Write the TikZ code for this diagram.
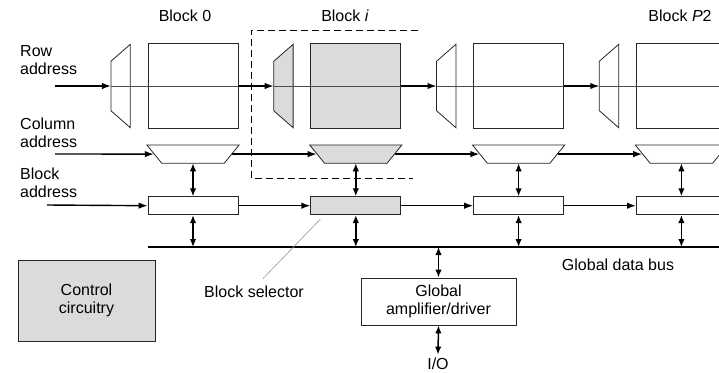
\documentclass[tikz,border=0pt]{standalone}
\usepackage{fontspec}
\setmainfont{Liberation Sans}
\usepackage{tikz}
\usetikzlibrary{arrows.meta, positioning, calc}
\tikzset{
  array/.style={draw=black!85, line width=0.8pt, minimum width=90pt, minimum height=85pt, inner sep=0pt},
  rowdec/.style={minimum width=19pt, minimum height=83pt, inner sep=0pt},
  coldec/.style={minimum width=92pt, minimum height=18pt, inner sep=0pt},
  decline/.style={draw=black!85, line width=0.8pt},
  selbox/.style={draw=black!85, line width=0.8pt, minimum width=90pt, minimum height=18pt, inner sep=0pt},
  unit/.style={draw=black!85, line width=0.8pt, align=center, inner sep=0pt},
  chosen/.style={fill=black!14},
  arrow/.style={-{Latex[length=9pt,width=6.5pt]}, line width=1.4pt},
  dblarrow/.style={{Latex[length=8pt,width=6.5pt]}-{Latex[length=8pt,width=6.5pt]}, line width=1.5pt},
  thru/.style={line width=0.5pt, black!70},
  bus/.style={line width=1.6pt},
  frame/.style={dash pattern=on 7pt off 4pt, line width=1pt},
  leader/.style={line width=0.6pt, black!40},
  note/.style={align=left, inner sep=0pt},
  every node/.style={font=\fontsize{16}{17.5}\selectfont}
}
% decoder outlines drawn on their (invisible) nodes
\newcommand{\rowdecoder}[2]{\draw[decline,#2] ([yshift=-17pt]#1.north west) -- (#1.north east) -- (#1.south east) -- ([yshift=17pt]#1.south west) -- cycle;}
\newcommand{\coldecoder}[2]{\draw[decline,#2] (#1.north west) -- (#1.north east) -- ([xshift=-15pt]#1.south east) -- ([xshift=15pt]#1.south west) -- cycle;}

\begin{document}
\begin{tikzpicture}[x=1pt, y=-1pt]
    \useasboundingbox (0,0) rectangle (719,372);

    % memory arrays and their decoders
    \node[array] (arr1) at (193,86) {};
    \node[array, chosen, right=72pt of arr1] (arr2) {};
    \node[array, right=72pt of arr2] (arr3) {};
    \node[array, right=72pt of arr3] (arr4) {};
    \node[rowdec] (rd1) at ([xshift=-27pt]arr1.west) {};
    \node[rowdec] (rd2) at ([xshift=-27pt]arr2.west) {};
    \node[rowdec] (rd3) at ([xshift=-27pt]arr3.west) {};
    \node[rowdec] (rd4) at ([xshift=-27pt]arr4.west) {};
    \node[coldec, below=16pt of arr1] (cd1) {};
    \node[coldec, below=16pt of arr2] (cd2) {};
    \node[coldec, below=16pt of arr3] (cd3) {};
    \node[coldec, below=16pt of arr4] (cd4) {};
    \node[selbox, below=33pt of cd1] (sel1) {};
    \node[selbox, chosen, below=33pt of cd2] (sel2) {};
    \node[selbox, below=33pt of cd3] (sel3) {};
    \node[selbox, below=33pt of cd4] (sel4) {};
    \rowdecoder{rd1}{}
    \rowdecoder{rd2}{chosen}
    \rowdecoder{rd3}{}
    \rowdecoder{rd4}{}
    \coldecoder{cd1}{}
    \coldecoder{cd2}{chosen}
    \coldecoder{cd3}{}
    \coldecoder{cd4}{}

    \node (lbl0) at (185,16) {Block 0};
    \node (lbli) at (345,16) {Block \textit{i}};
    \node (lblp) at (680,16) {Block \textit{P}2};

    \node[note, anchor=west] (rowtxt) at (20,60) {Row\\address};
    \node[note, anchor=west] (coltxt) at (20,133) {Column\\address};
    \node[note, anchor=west] (blktxt) at (20,183) {Block\\address};
    \coordinate (rowin) at (55,86);
    \coordinate (colin) at (55,154);
    \coordinate (blkin) at (47,205);
    \coordinate (busl) at (148,247);
    \coordinate (busr) at (730,247);

    % row address
    \draw[thru] (rd1.west) -- (arr1.east);
    \draw[thru] (rd2.west) -- (arr2.east);
    \draw[thru] (rd3.west) -- (arr3.east);
    \draw[thru] (rd4.west) -- (arr4.east);
    \draw[arrow] (rowin) -- (rd1.west);
    \draw[arrow] (arr1.east) -- (rd2.west);
    \draw[arrow] (arr2.east) -- (rd3.west);
    \draw[arrow] (arr3.east) -- (rd4.west);

    % column address
    \draw[arrow] (colin) -- ([xshift=7pt]cd1.west);
    \draw[arrow] ([xshift=-7pt]cd1.east) -- ([xshift=7pt]cd2.west);
    \draw[arrow] ([xshift=-7pt]cd2.east) -- ([xshift=7pt]cd3.west);
    \draw[arrow] ([xshift=-7pt]cd3.east) -- ([xshift=7pt]cd4.west);

    % block address
    \draw[arrow] (blkin) -- (sel1.west);
    \draw[arrow] (sel1.east) -- (sel2.west);
    \draw[arrow] (sel2.east) -- (sel3.west);
    \draw[arrow] (sel3.east) -- (sel4.west);

    % global data bus
    \draw[bus] (busl) -- (busr);
    \draw[dblarrow] (cd1.south) -- (sel1.north);
    \draw[dblarrow] (cd2.south) -- (sel2.north);
    \draw[dblarrow] (cd3.south) -- (sel3.north);
    \draw[dblarrow] (cd4.south) -- (sel4.north);
    \draw[dblarrow] (sel1.south) -- (sel1.south |- busl);
    \draw[dblarrow] (sel2.south) -- (sel2.south |- busl);
    \draw[dblarrow] (sel3.south) -- (sel3.south |- busl);
    \draw[dblarrow] (sel4.south) -- (sel4.south |- busl);
    \node (bustxt) at (618,265) {Global data bus};

    % block i outline
    \draw[frame] (418,30) -| (251,178) -- (413,178);

    \node[unit, chosen, minimum width=137pt, minimum height=81pt] (ctrl) at (86.5,300.5) {Control\\circuitry};
    \node (seltxt) at (254,292) {Block selector};
    \draw[leader] ([xshift=9pt,yshift=4pt]seltxt.north) -- ([xshift=10pt,yshift=-4pt]sel2.south west);

    \node[unit, minimum width=155pt, minimum height=47pt] (amp) at (438.5,301.5) {Global\\amplifier/driver};
    \node (io) at (438,364) {I/O};
    \draw[dblarrow] (amp.north |- busl) -- (amp.north);
    \draw[dblarrow] (amp.south) -- (io.north);
\end{tikzpicture}
\end{document}
